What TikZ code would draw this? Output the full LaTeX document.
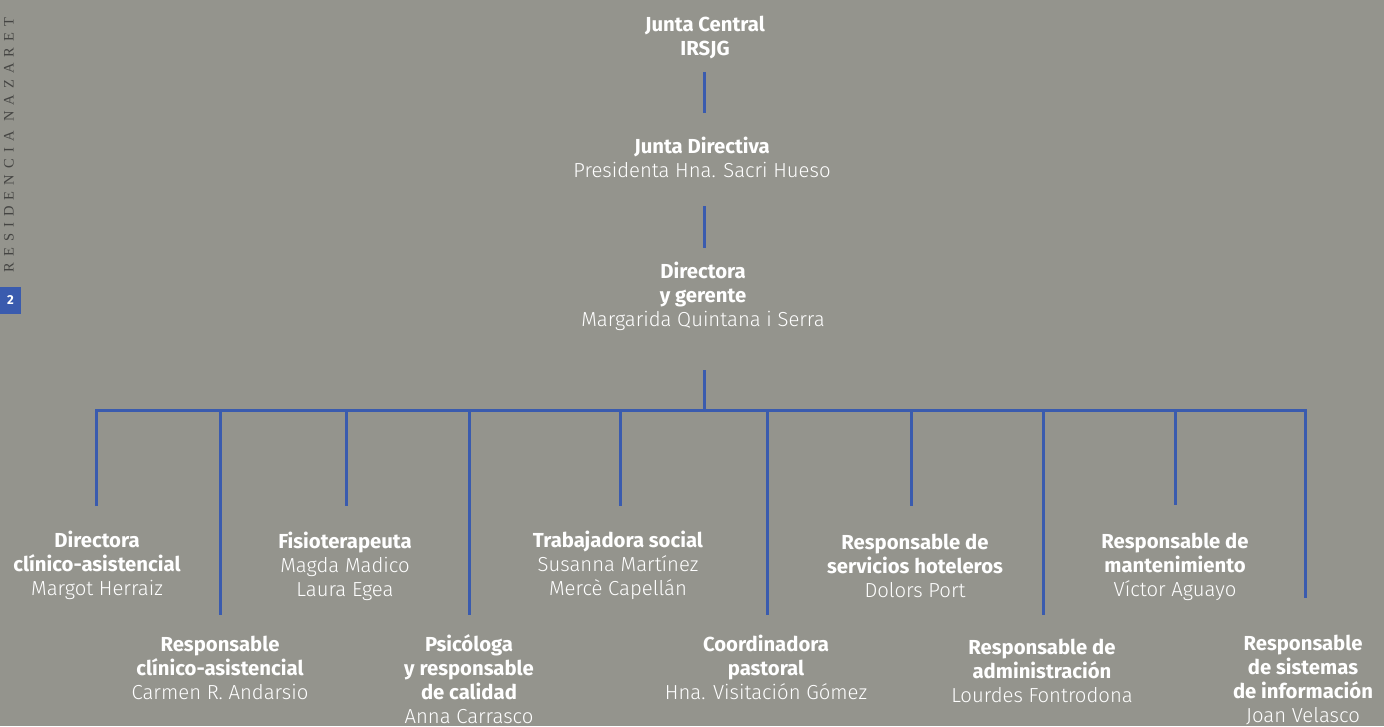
\documentclass[tikz,border=0pt]{standalone}
\usepackage{fontspec}
\setmainfont{Fira Sans}[UprightFont=* Light, BoldFont=* Bold, ItalicFont=* Light Italic, BoldItalicFont=* Bold Italic]
\newfontfamily\sidefont[LetterSpace=42]{Liberation Serif}
\definecolor{bg}{HTML}{94948D}
\definecolor{lineblue}{HTML}{3A5BAE}
\definecolor{sidegray}{HTML}{454543}
\newcommand{\ttl}[1]{\textbf{#1}}
\begin{document}
\begin{tikzpicture}[x=1pt,y=-1pt,
  org/.style={text=white, align=center, inner sep=0pt, font=\fontsize{20.3}{24}\selectfont},
  link/.style={draw=lineblue, line width=3pt}]
\fill[bg] (0,0) rectangle (1384,726);
\useasboundingbox (0,0) rectangle (1384,726);
% side decoration
\node[rotate=90, text=sidegray, inner sep=0pt, font=\sidefont\fontsize{14.5}{14.5}\selectfont] (side) at (9,145) {RESIDENCIA NAZARET};
\node[fill=lineblue, minimum width=21pt, minimum height=27pt, inner sep=0pt, text=white, font=\bfseries\fontsize{13}{13}\selectfont] (page) at (10.5,300.5) {2};
% top chain
\node[org] (jc) at (705,38) {\ttl{Junta Central}\\\ttl{IRSJG}};
\node[org] (jd) at (702,157) {\ttl{Junta Directiva}\\Presidenta Hna. Sacri Hueso};
\node[org] (dg) at (703,296) {\ttl{Directora}\\\ttl{y gerente}\\Margarida Quintana i Serra};
\coordinate (a1) at (704,72); \coordinate (a2) at (704,113);
\coordinate (b1) at (704,206); \coordinate (b2) at (704,248);
\coordinate (c1) at (704,370); \coordinate (c2) at (704,410);
\draw[link] (a1) -- (a2);
\draw[link] (b1) -- (b2);
\draw[link] (c1) -- (c2);
\coordinate (L) at (96,410); \coordinate (R) at (1305,410);
\coordinate (Lend) at (96,506); \coordinate (Rend) at (1305,598);
\draw[link] (Lend) -- (L) -- (R) -- (Rend);
% bottom nodes
\node[org] (n1) at (97,565) {\ttl{Directora}\\\ttl{clínico-asistencial}\\Margot Herraiz};
\node[org] (n2) at (220,668) {\ttl{Responsable}\\\ttl{clínico-asistencial}\\Carmen R. Andarsio};
\node[org] (n3) at (345,566) {\ttl{Fisioterapeuta}\\Magda Madico\\Laura Egea};
\node[org] (n4) at (469,679) {\ttl{Psicóloga}\\\ttl{y responsable}\\\ttl{de calidad}\\Anna Carrasco};
\node[org] (n5) at (618,565) {\ttl{Trabajadora social}\\Susanna Martínez\\Mercè Capellán};
\node[org] (n6) at (766,667) {\ttl{Coordinadora}\\\ttl{pastoral}\\Hna. Visitación Gómez};
\node[org] (n7) at (915,566) {\ttl{Responsable de}\\\ttl{servicios hoteleros}\\Dolors Port};
\node[org] (n8) at (1042,671) {\ttl{Responsable de}\\\ttl{administración}\\Lourdes Fontrodona};
\node[org] (n9) at (1175,567) {\ttl{Responsable de}\\\ttl{mantenimiento}\\Víctor Aguayo};
\node[org] (n10) at (1303,680) {\ttl{Responsable}\\\ttl{de sistemas}\\\ttl{de información}\\Joan Velasco};
% drops
\foreach \i/\x/\y in {2/220/615, 3/346/506, 4/469/615, 5/620/506, 6/767/615, 7/911/506, 8/1043/615, 9/1175/505}{
  \coordinate (top\i) at (\x,410);
  \coordinate (end\i) at (\x,\y);
  \draw[link] (top\i) -- (end\i);
}
\end{tikzpicture}
\end{document}
